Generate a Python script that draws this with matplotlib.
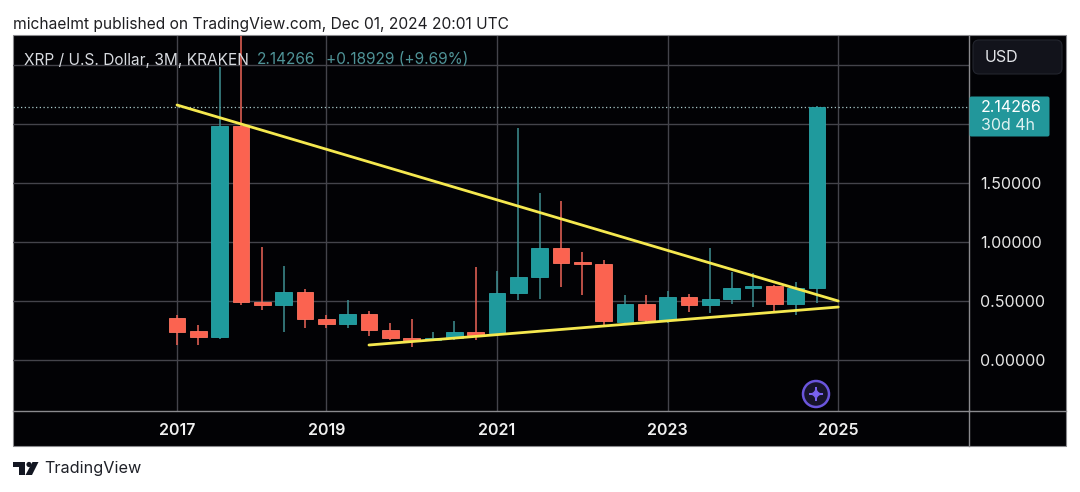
import matplotlib
matplotlib.use("Agg")
import matplotlib.pyplot as plt
from matplotlib.patches import Rectangle, FancyBboxPatch, Circle, PathPatch, Polygon
from matplotlib.path import Path
from matplotlib.lines import Line2D
from matplotlib.transforms import Affine2D

plt.rcParams['font.family'] = ['Inter', 'DejaVu Sans']

# Quarterly candles
opens  = [.353,.245,.198,1.986,.494,.463,.574,.345,.302,.387,.252,.189,.169,.186,.240,.226,.570,.700,.949,.830,.810,.325,.475,.336,.534,.469,.514,.613,.627,.472,.607]
closes = [.240,.198,1.986,.494,.463,.574,.345,.302,.387,.252,.189,.169,.190,.237,.212,.565,.700,.949,.825,.810,.330,.475,.336,.534,.469,.514,.610,.627,.472,.607,2.14266]
highs  = [.380,.297,2.480,3.300,.960,.797,.600,.381,.508,.415,.311,.345,.235,.330,.786,.754,1.963,1.413,1.347,.912,.847,.553,.548,.585,.559,.946,.749,.740,.636,.658,2.150]
lows   = [.127,.127,.178,.466,.424,.240,.274,.274,.274,.203,.169,.113,.165,.170,.169,.200,.508,.514,.620,.550,.297,.305,.325,.310,.410,.400,.472,.452,.396,.381,.486]

year_ticks  = [0, 7, 15, 23, 31]
year_labels = ['2017', '2019', '2021', '2023', '2025']
price_ticks  = [0.0, 0.5, 1.0, 1.5, 2.0, 2.5]
price_labels = ['0.00000', '0.50000', '1.00000', '1.50000', '', '']
upper_x, upper_y = [0, 31], [2.161, 0.50]
lower_x, lower_y = [9, 31], [0.127, 0.449]
last_price = 2.14266

GREEN, RED = '#1f9a9d', '#fb6350'
GREEN_W, RED_W = '#3f8f93', '#ee6458'
GRID = '#44444b'
W, H = 1080, 492

fig = plt.figure(figsize=(W/100, H/100), dpi=100, facecolor='white')
px = Affine2D().scale(1, -1).translate(0, H)

def ftext(x, y, s, **kw):
    kw.setdefault('va', 'center')
    return fig.text(x/W, 1-y/H, s, **kw)

# dark pane
fig.patches.append(Rectangle((13, 35), 1053, 411, transform=px, fc='#020205', ec='#8a8a8e', lw=0.8, zorder=-5))

L, R, T, B = 13, 968.5, 35.5, 410.5
ax = fig.add_axes([L/W, 1-B/H, (R-L)/W, (B-T)/H], facecolor='none')
ax.set_xlim((L-177)/21.33, (R-177)/21.33)
ax.set_ylim((360-B)/118, (360-T)/118)

ax.set_axisbelow(True)
ax.grid(True, color=GRID, lw=1.0)
ax.set_xticks(year_ticks, year_labels)
ax.yaxis.tick_right()
ax.set_yticks(price_ticks, price_labels)
ax.tick_params(axis='x', length=0, pad=9, colors='#f0f0f0', labelsize=11.5)
ax.tick_params(axis='y', length=0, pad=8.5, colors='#e6e6e6', labelsize=11.5)
for t in ax.get_xticklabels():
    t.set_fontweight('semibold')
for name, s in ax.spines.items():
    s.set_visible(name in ('right', 'bottom'))
    s.set_color('#8a8a8e')
    s.set_linewidth(1.0)

# last price line
ax.axhline(last_price, color='#a9c9c9', lw=0.9, ls=(0, (1, 2)), zorder=1)

# candles
idx = range(len(opens))
for i in idx:
    up = closes[i] >= opens[i]
    ax.vlines(i, lows[i], highs[i], color=GREEN_W if up else RED_W, lw=1.1, zorder=2)
    ax.bar(i, abs(closes[i]-opens[i]), bottom=min(opens[i], closes[i]), width=0.78,
           color=GREEN if up else RED, ec='#2aa5a8' if up else '#ff7460', lw=0.6, zorder=3)

# trend lines
ax.plot(upper_x, upper_y, color='#f5e84f', lw=2.0, zorder=4, solid_capstyle='round')
ax.plot(lower_x, lower_y, color='#f5e84f', lw=2.0, zorder=4, solid_capstyle='round')

# strip dividers
fig.add_artist(Line2D([R, R], [B, 446], transform=px, color='#8a8a8e', lw=1.0))
fig.add_artist(Line2D([R, 1066], [B, B], transform=px, color='#8a8a8e', lw=1.0))

# header texts
ftext(13, 24, 'michaelmt published on TradingView.com, Dec 01, 2024 20:01 UTC', color='#1f1f22', fontsize=11.2, ha='left')
ftext(24, 60, 'XRP / U.S. Dollar, 3M, KRAKEN', color='#d8dbe0', fontsize=11.1, ha='left')
ftext(257, 60, '2.14266', color='#4f9397', fontsize=11.1, ha='left')
ftext(326, 60, '+0.18929 (+9.69%)', color='#4f9397', fontsize=11.1, ha='left')

# USD button
fig.patches.append(FancyBboxPatch((976, 43), 83, 28, boxstyle='round,pad=3,rounding_size=6', transform=px,
                                  fc='#12131b', ec='#23252e', lw=0.8))
ftext(985, 58, 'USD', color='#e4e6ea', fontsize=11.5, ha='left')

# price tag
fig.patches.append(FancyBboxPatch((970, 97), 79, 39, boxstyle='round,pad=0.5,rounding_size=2', transform=px,
                                  fc='#22979b', ec='none'))
ftext(981, 108, '2.14266', color='white', fontsize=11.5, ha='left')
ftext(981, 126, '30d 4h', color='#dff1f1', fontsize=11.5, ha='left')

# star badge
cx, cy, r = 816, 394, 7
fig.patches.append(Circle((cx, cy), 13, transform=px, fc='#17142c', ec='#6a55dc', lw=1.8))
verts = [(cx, cy-r), (cx, cy), (cx+r, cy), (cx, cy), (cx, cy+r), (cx, cy), (cx-r, cy), (cx, cy), (cx, cy-r)]
codes = [Path.MOVETO] + [Path.CURVE3]*8
fig.patches.append(PathPatch(Path(verts, codes), transform=px, fc='#7a63f0', ec='#7a63f0', lw=0.8))

# TradingView logo
logo = '#131722'
fig.patches.append(Polygon([(13, 462), (25, 462), (25, 475), (19, 475), (19, 467), (13, 467)], transform=px, fc=logo, ec='none'))
fig.patches.append(Circle((29, 464.5), 2.6, transform=px, fc=logo, ec='none'))
fig.patches.append(Polygon([(32.5, 462), (38.5, 462), (32, 475), (25.5, 475)], transform=px, fc=logo, ec='none'))
ftext(44, 468, 'TradingView', color='#1f2128', fontsize=11.7, ha='left')

fig.savefig('out.png', dpi=100, facecolor='white')
